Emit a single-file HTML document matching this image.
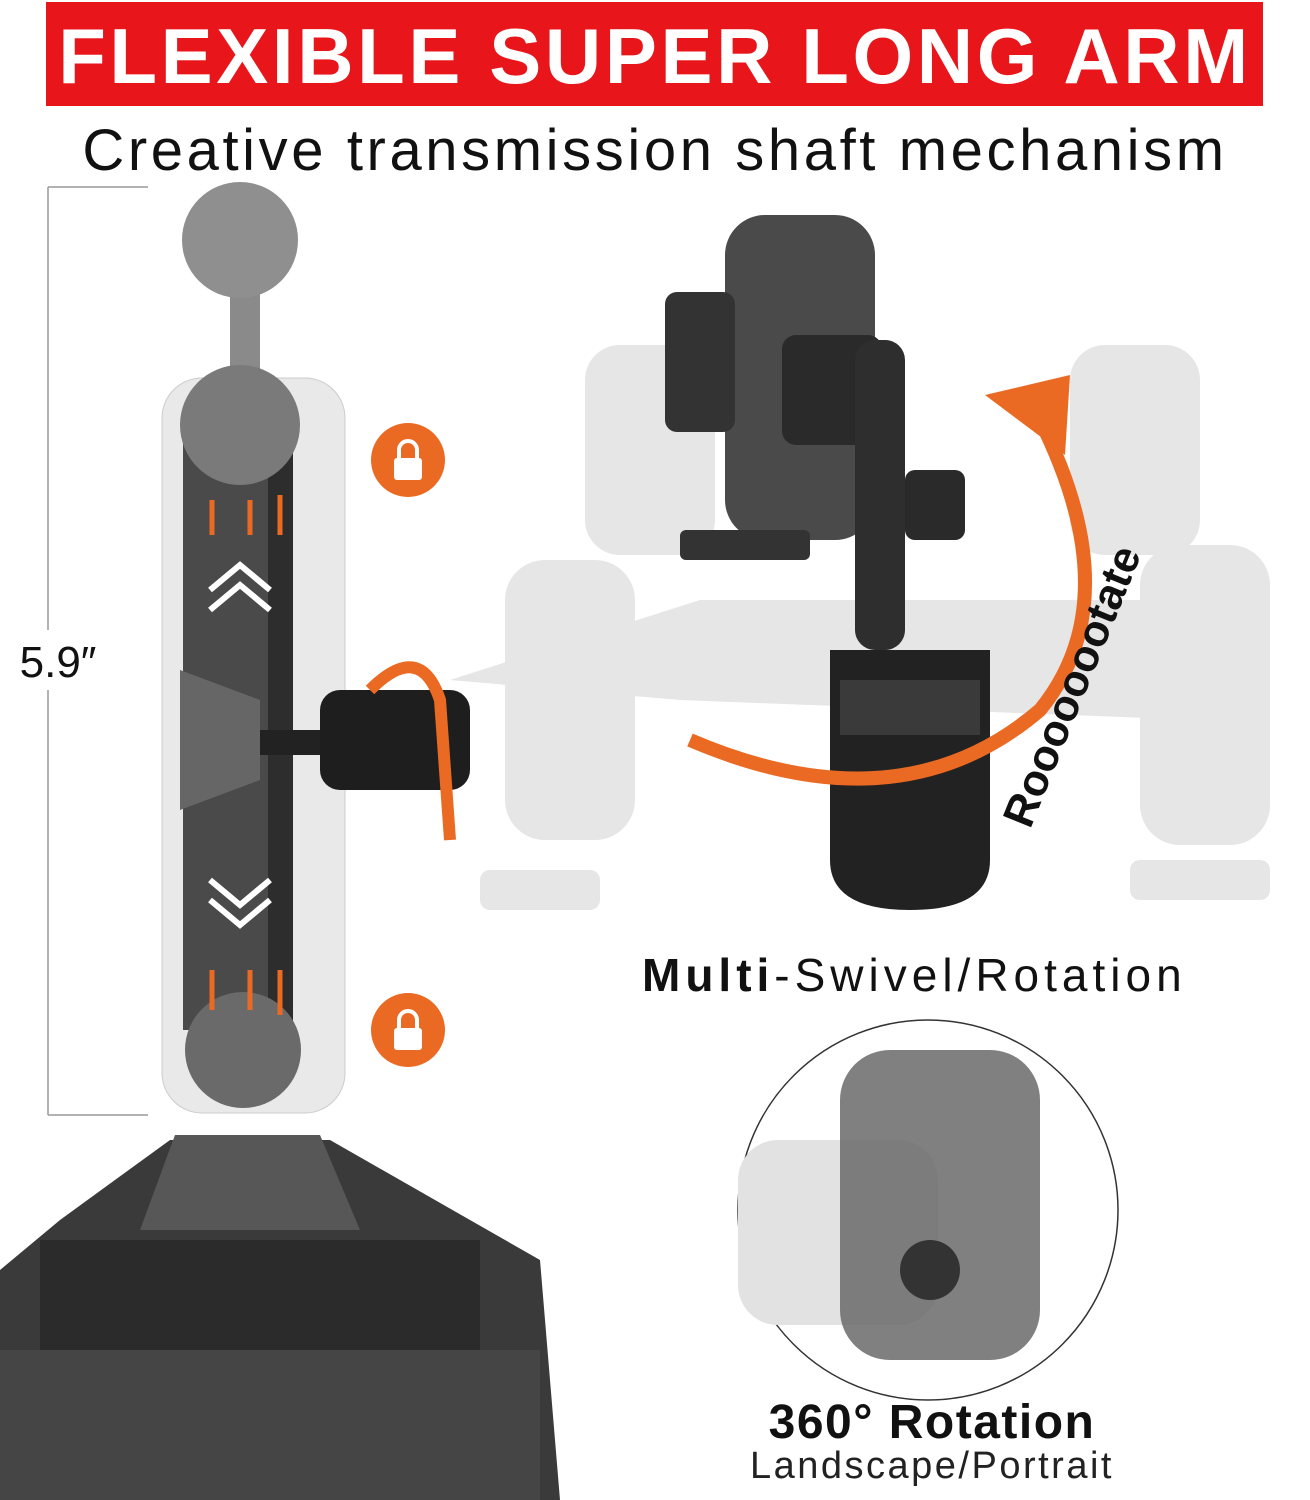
<!DOCTYPE html>
<html><head><meta charset="utf-8"><style>
html,body{margin:0;padding:0;background:#fff;}
svg{display:block}
</style></head><body>
<svg width="1310" height="1500" viewBox="0 0 1310 1500" xmlns="http://www.w3.org/2000/svg">
<rect width="1310" height="1500" fill="#fff"/>
<rect x="46" y="2" width="1217" height="104" fill="#e8161b"/>
<text x="655" y="83" text-anchor="middle" font-family="Liberation Sans, sans-serif" font-weight="bold" font-size="78" fill="#fff" letter-spacing="3.6">FLEXIBLE SUPER LONG ARM</text>
<text x="655" y="170" text-anchor="middle" font-family="Liberation Sans, sans-serif" font-size="58" fill="#111" letter-spacing="3.6">Creative transmission shaft mechanism</text>
<line x1="48" y1="187" x2="48" y2="1115" stroke="#999" stroke-width="1.5"/>
<line x1="48" y1="187" x2="148" y2="187" stroke="#999" stroke-width="1.5"/>
<line x1="48" y1="1115" x2="148" y2="1115" stroke="#999" stroke-width="1.5"/>
<rect x="8" y="630" width="100" height="60" fill="#fff"/>
<text x="58" y="677" text-anchor="middle" font-family="Liberation Sans, sans-serif" font-size="44" fill="#111">5.9″</text>
<g fill="#e6e6e6">
<rect x="585" y="345" width="130" height="210" rx="35"/>
<rect x="1070" y="345" width="130" height="210" rx="35"/>
<path d="M450 680 L700 600 L1150 600 L1230 680 L1200 720 L680 700 Z"/>
<rect x="505" y="560" width="130" height="280" rx="40"/>
<rect x="1140" y="545" width="130" height="300" rx="40"/>
<rect x="480" y="870" width="120" height="40" rx="10"/>
<rect x="1130" y="860" width="140" height="40" rx="10"/>
</g>
<rect x="725" y="215" width="150" height="325" rx="40" fill="#4a4a4a"/>
<rect x="665" y="292" width="70" height="140" rx="12" fill="#333"/>
<rect x="782" y="335" width="100" height="110" rx="14" fill="#2a2a2a"/>
<rect x="855" y="340" width="50" height="310" rx="20" fill="#2e2e2e"/>
<rect x="905" y="470" width="60" height="70" rx="10" fill="#2a2a2a"/>
<rect x="680" y="530" width="130" height="30" rx="6" fill="#333"/>
<path d="M830 650 L990 650 L990 860 Q990 910 910 910 Q830 910 830 860 Z" fill="#222"/>
<rect x="840" y="680" width="140" height="55" fill="#3a3a3a"/>
<path d="M690 740 Q900 830 1040 710 Q1130 600 1040 420" fill="none" stroke="#ea6a23" stroke-width="14"/>
<path d="M985 395 L1070 375 L1065 455 Z" fill="#ea6a23"/>
<text transform="translate(1030,830) rotate(-68)" font-family="Liberation Sans, sans-serif" font-weight="bold" font-size="44" fill="#111">Roooooootate</text>
<text x="642" y="991" font-family="Liberation Sans, sans-serif" font-size="46" fill="#111" letter-spacing="5"><tspan font-weight="bold">Multi</tspan>-Swivel/Rotation</text>
<rect x="162" y="378" width="183" height="735" rx="40" fill="#e9e9e9" stroke="#ccc"/>
<rect x="230" y="260" width="30" height="130" fill="#8a8a8a"/>
<circle cx="240" cy="240" r="58" fill="#8f8f8f"/>
<rect x="183" y="440" width="110" height="590" fill="#2d2d2d"/>
<rect x="183" y="440" width="85" height="590" fill="#4a4a4a"/>
<circle cx="240" cy="425" r="60" fill="#7a7a7a"/>
<circle cx="243" cy="1050" r="58" fill="#6a6a6a"/>
<path d="M180 670 L260 700 L260 780 L180 810 Z" fill="#666"/>
<rect x="260" y="730" width="80" height="25" fill="#222"/>
<rect x="320" y="690" width="150" height="100" rx="20" fill="#1e1e1e"/>
<path d="M370 690 Q420 640 440 700 L450 840" fill="none" stroke="#ea6a23" stroke-width="12"/>
<path d="M210 610 L240 585 L270 610 M210 590 L240 565 L270 590" fill="none" stroke="#fff" stroke-width="6"/>
<path d="M210 880 L240 905 L270 880 M210 900 L240 925 L270 900" fill="none" stroke="#fff" stroke-width="6"/>
<g stroke="#ea6a23" stroke-width="5"><line x1="212" y1="535" x2="212" y2="500"/><line x1="250" y1="535" x2="250" y2="500"/><line x1="280" y1="535" x2="280" y2="495"/><line x1="212" y1="970" x2="212" y2="1010"/><line x1="250" y1="970" x2="250" y2="1010"/><line x1="280" y1="970" x2="280" y2="1015"/></g>
<circle cx="408" cy="460" r="37" fill="#ea6a23"/>
<circle cx="408" cy="1030" r="37" fill="#ea6a23"/>
<g fill="#fff"><rect x="394" y="458" width="28" height="22" rx="3"/><rect x="394" y="1028" width="28" height="22" rx="3"/></g>
<g fill="none" stroke="#fff" stroke-width="4"><path d="M399 458 v-8 a9 9 0 0 1 18 0 v8"/><path d="M399 1028 v-8 a9 9 0 0 1 18 0 v8"/></g>
<path d="M0 1500 L0 1270 L60 1220 L170 1140 L330 1140 L470 1220 L540 1260 L560 1500 Z" fill="#3a3a3a"/>
<path d="M175 1135 L320 1135 L360 1230 L140 1230 Z" fill="#575757"/>
<rect x="40" y="1240" width="440" height="110" fill="#2b2b2b"/>
<rect x="0" y="1350" width="540" height="150" fill="#454545"/>
<circle cx="928" cy="1210" r="190" fill="#fff" stroke="#333" stroke-width="1.5"/>
<rect x="738" y="1140" width="200" height="185" rx="40" fill="#e2e2e2"/>
<rect x="840" y="1050" width="200" height="310" rx="50" fill="#6a6a6a" opacity="0.85"/>
<circle cx="930" cy="1270" r="30" fill="#333"/>
<text x="932" y="1438" text-anchor="middle" font-family="Liberation Sans, sans-serif" font-weight="bold" font-size="48" fill="#111" letter-spacing="1.5">360° Rotation</text>
<text x="932" y="1478" text-anchor="middle" font-family="Liberation Sans, sans-serif" font-size="38" fill="#222" letter-spacing="2.5">Landscape/Portrait</text>
</svg>
</body></html>
